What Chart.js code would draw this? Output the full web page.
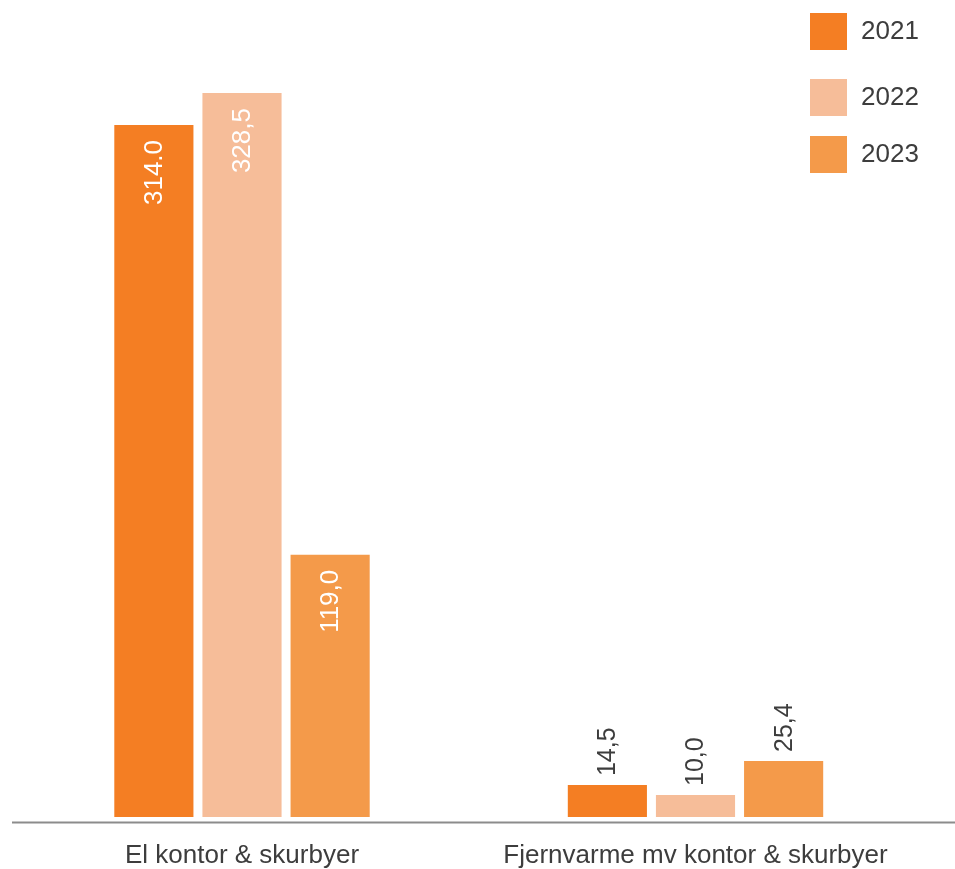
<!DOCTYPE html>
<html>
<head>
<meta charset="utf-8">
<script src="https://cdn.jsdelivr.net/npm/chart.js@4.4.1/dist/chart.umd.min.js"></script>
<style>
  html, body { margin: 0; padding: 0; background: #fff; }
  #wrap { position: relative; width: 955px; height: 869px; }
</style>
</head>
<body>
<div id="wrap"><canvas id="chart" width="955" height="869"></canvas></div>
<script>
// data
const categories = ["El kontor & skurbyer", "Fjernvarme mv kontor & skurbyer"];
const years = ["2021", "2022", "2023"];
const values2021 = [314.0, 14.5];
const values2022 = [328.5, 10.0];
const values2023 = [119.0, 25.4];
const labels2021 = ["314.0", "14,5"];
const labels2022 = ["328,5", "10,0"];
const labels2023 = ["119,0", "25,4"];

const colors = ["#F47E23", "#F6BD99", "#F49A4A"];
const textColor = "#3d3d3d";
const fontFamily = "'Liberation Sans', Arial, sans-serif";

// value labels, rotated: white inside tall bars, grey above short ones
const valueLabels = {
  id: "valueLabels",
  afterDatasetsDraw(chart) {
    const ctx = chart.ctx;
    chart.data.datasets.forEach((ds, i) => {
      const meta = chart.getDatasetMeta(i);
      meta.data.forEach((bar, j) => {
        const inside = ds.data[j] > 100;
        ctx.save();
        ctx.translate(bar.x, bar.y);
        ctx.rotate(-Math.PI / 2);
        ctx.textBaseline = "middle";
        if (inside) {
          ctx.font = "26px " + fontFamily;
          ctx.fillStyle = "#ffffff";
          ctx.textAlign = "right";
          ctx.fillText(ds.valueLabels[j], -15, 1);
        } else {
          ctx.font = "25px " + fontFamily;
          ctx.fillStyle = textColor;
          ctx.textAlign = "left";
          ctx.fillText(ds.valueLabels[j], 9, 1);
        }
        ctx.restore();
      });
    });
  }
};

// legend squares at top right
const sideLegend = {
  id: "sideLegend",
  afterDraw(chart) {
    const ctx = chart.ctx;
    const tops = [13, 79, 136];
    ctx.save();
    chart.data.datasets.forEach((ds, i) => {
      ctx.fillStyle = ds.backgroundColor;
      ctx.fillRect(810, tops[i], 37, 37);
      ctx.font = "26px " + fontFamily;
      ctx.fillStyle = textColor;
      ctx.textAlign = "left";
      ctx.textBaseline = "middle";
      ctx.fillText(ds.label, 861, tops[i] + 19);
    });
    ctx.restore();
  }
};

// grey baseline running across the full width
const baseLine = {
  id: "baseLine",
  afterDraw(chart) {
    const ctx = chart.ctx;
    const y = chart.chartArea.bottom + 5.5;
    ctx.save();
    ctx.strokeStyle = "#8c8c8c";
    ctx.lineWidth = 2;
    ctx.beginPath();
    ctx.moveTo(12, y);
    ctx.lineTo(955, y);
    ctx.stroke();
    ctx.restore();
  }
};

const seriesValues = [values2021, values2022, values2023];
const seriesLabels = [labels2021, labels2022, labels2023];

new Chart(document.getElementById("chart"), {
  type: "bar",
  data: {
    labels: categories,
    datasets: years.map((y, i) => ({
      label: y,
      data: seriesValues[i],
      valueLabels: seriesLabels[i],
      backgroundColor: colors[i],
      borderWidth: 0,
      categoryPercentage: 0.583,
      barPercentage: 0.898
    }))
  },
  options: {
    responsive: false,
    animation: false,
    devicePixelRatio: 1,
    layout: { padding: { top: 23.6, left: 15.25, right: 32.75, bottom: 0 } },
    plugins: {
      legend: { display: false },
      tooltip: { enabled: false }
    },
    scales: {
      x: {
        grid: { display: false, drawTicks: false },
        border: { display: false },
        ticks: {
          color: textColor,
          font: { family: fontFamily, size: 26 },
          padding: 23,
          maxRotation: 0,
          autoSkip: false
        },
        afterFit(scale) { scale.height = 52; }
      },
      y: {
        display: false,
        min: 0,
        max: 360
      }
    }
  },
  plugins: [valueLabels, sideLegend, baseLine]
});
</script>
</body>
</html>
